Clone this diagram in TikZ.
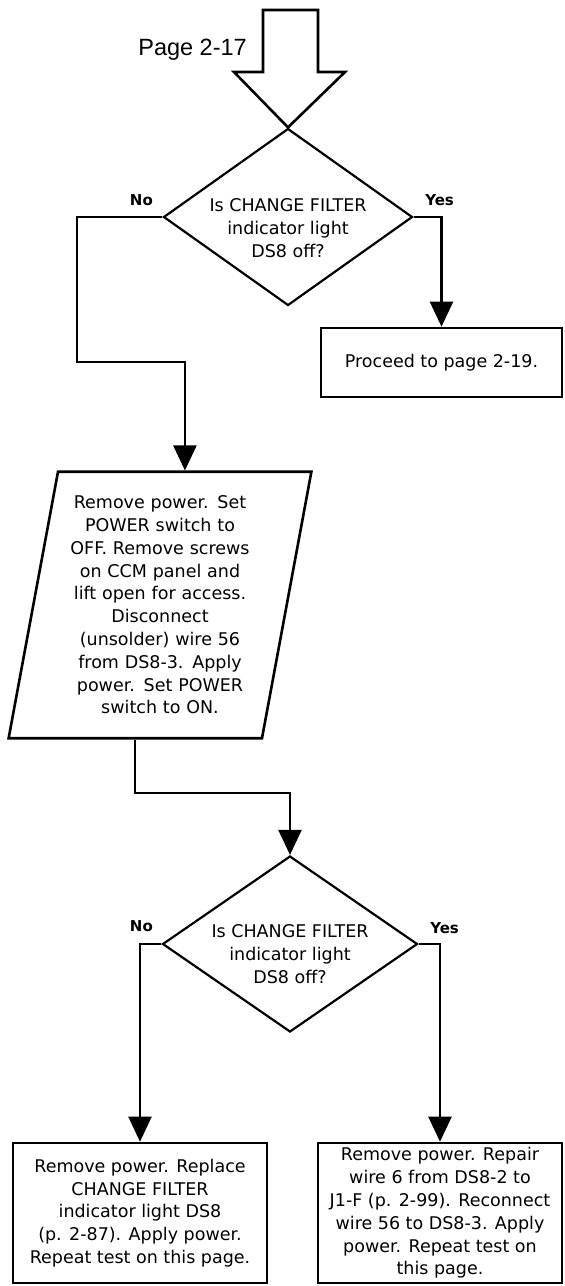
\documentclass[tikz,border=0pt]{standalone}
\usepackage{fontspec}
\setmainfont{DejaVu Sans}
\newfontfamily\pagefont{Liberation Sans}
\usetikzlibrary{shapes.geometric,arrows.meta}

\begin{document}
\begin{tikzpicture}[x=1pt,y=1pt,
  txt/.style={font=\fontsize{17.5}{22.8}\selectfont,align=center,inner sep=0pt},
  decision/.style={draw,diamond,line width=2.2pt,inner sep=0pt},
  actbox/.style={txt,draw,rectangle,line width=2.6pt},
  actpara/.style={txt,draw,trapezium,trapezium left angle=79.5,trapezium right angle=100.5,
    inner xsep=0pt,inner ysep=24pt,line width=2.6pt},
  answer/.style={font=\fontsize{15}{18}\selectfont\bfseries,inner sep=0pt},
  line/.style={line width=2.2pt,-{Triangle[width=23pt,length=25pt]}}]
  \useasboundingbox (0,0) rectangle (565,-1286);

  % first check
  \node[decision,minimum width=249pt,minimum height=177pt] (d1) at (288,-217) {};
  \node[txt] (q1) at ([yshift=-11pt]d1.center) {Is CHANGE FILTER\\indicator light\\DS8 off?};
  \node[answer] (no1) at ([shift={(-21,17)}]d1.west) {No};
  \node[answer] (yes1) at ([shift={(26,17)}]d1.east) {Yes};

  % entry arrow from the previous page
  \draw[line width=2.6pt] (263,-10) -- (318,-10) -- (318,-72) -- (345,-72) -- (d1.north)
    -- (234,-72) -- (263,-72) -- cycle;
  \node[font=\pagefont\fontsize{23.5}{28}\selectfont,inner sep=0pt,anchor=base east] (page) at (247,-55) {Page 2-17};

  \node[actbox,minimum width=241pt,minimum height=69pt] (go) at (441.5,-362.5) {Proceed to page 2-19.};
  \node[actpara,text width=204pt] (proc) at (160,-605)
    {Remove power. Set\\POWER switch to\\OFF. Remove screws\\on CCM panel and\\lift open for access.\\Disconnect\\(unsolder) wire 56\\from DS8-3. Apply\\power. Set POWER\\switch to ON.};

  % second check
  \node[decision,minimum width=255pt,minimum height=176pt] (d2) at (290,-944) {};
  \node[txt] (q2) at ([yshift=-10pt]d2.center) {Is CHANGE FILTER\\indicator light\\DS8 off?};
  \node[answer] (no2) at ([shift={(-20,18)}]d2.west) {No};
  \node[answer] (yes2) at ([shift={(26,16)}]d2.east) {Yes};

  \node[actbox,minimum width=254pt,minimum height=140pt] (fix1) at (140,-1213)
    {Remove power. Replace\\CHANGE FILTER\\indicator light DS8\\(p. 2-87). Apply power.\\Repeat test on this page.};
  \node[actbox,minimum width=244pt,minimum height=140pt] (fix2) at (440,-1213)
    {Remove power. Repair\\wire 6 from DS8-2 to\\J1-F (p. 2-99). Reconnect\\wire 56 to DS8-3. Apply\\power. Repeat test on\\this page.};

  \coordinate (bend1) at (77,-362);
  \coordinate (bend2) at (290,-793);
  \draw[line] (d1.west) -| (bend1) -| (proc.top side);
  \draw[line] (d1.east) -| (go.north);
  \draw[line] (proc.bottom side) |- (bend2) -- (d2.north);
  \draw[line] (d2.west) -| (fix1.north);
  \draw[line] (d2.east) -| (fix2.north);
\end{tikzpicture}
\end{document}
